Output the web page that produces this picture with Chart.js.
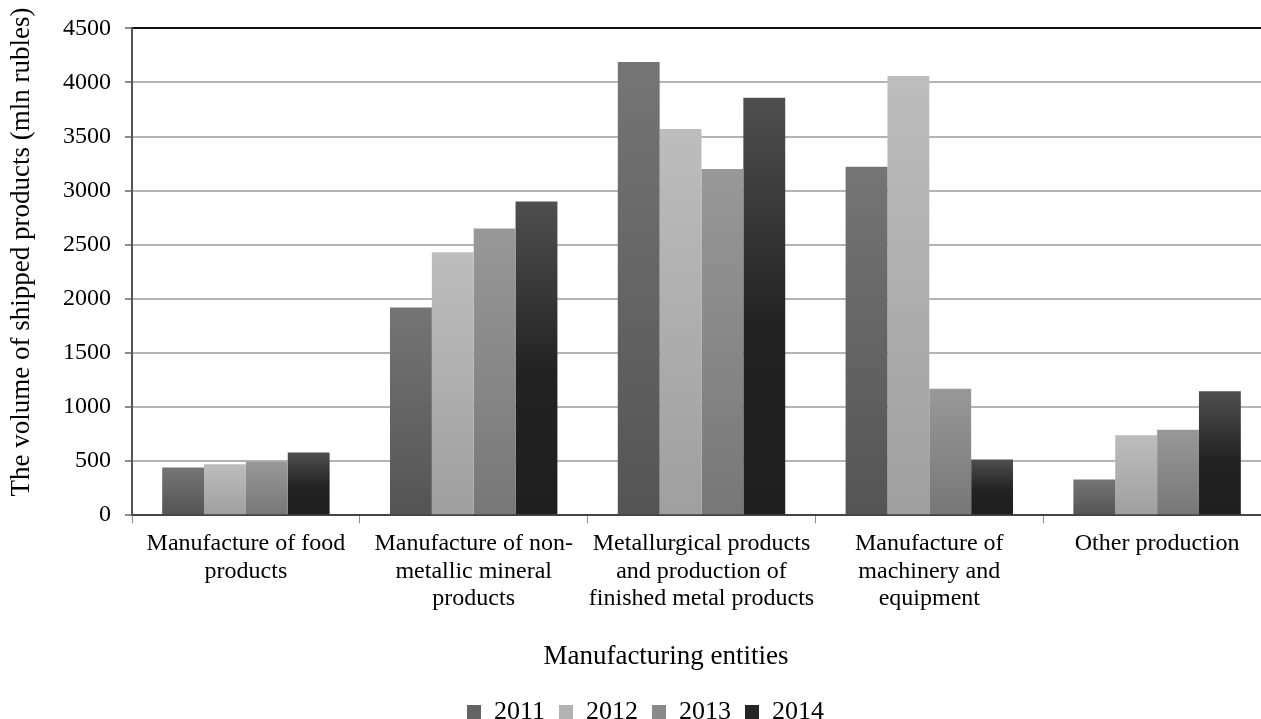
<!DOCTYPE html>
<html>
<head>
<meta charset="utf-8">
<script src="https://cdn.jsdelivr.net/npm/chart.js@4.4.1/dist/chart.umd.min.js"></script>
<style>
  html, body { margin: 0; padding: 0; background: #fff; overflow: hidden; }
  #wrap { width: 1290px; height: 735px; }
</style>
</head>
<body>
<div id="wrap"><canvas id="myChart"></canvas></div>
<script>
// data
var categories = [
    ["Manufacture of food", "products"],
    ["Manufacture of non-", "metallic mineral", "products"],
    ["Metallurgical products", "and production of", "finished metal products"],
    ["Manufacture of", "machinery and", "equipment"],
    "Other production"
];
var years = ["2011", "2012", "2013", "2014"];
var v2011 = [440, 1920, 4190, 3220, 330];
var v2012 = [470, 2430, 3570, 4060, 740];
var v2013 = [495, 2650, 3200, 1170, 790];
var v2014 = [580, 2900, 3860, 515, 1145];
var yTicks = [0, 500, 1000, 1500, 2000, 2500, 3000, 3500, 4000, 4500];

var xTitle = "Manufacturing entities";
var yTitle = "The volume of shipped products (mln rubles)";
var serif = "'Liberation Serif', 'Times New Roman', serif";

// each bar gets its own top-to-bottom shading
function shade(stops) {
    return function (c) {
        var chart = c.chart;
        if (!chart.chartArea || c.type !== "data") return stops[stops.length - 1][1];
        var y = chart.scales.y;
        var g = chart.ctx.createLinearGradient(0, y.getPixelForValue(c.raw), 0, y.getPixelForValue(0));
        stops.forEach(function (s) { g.addColorStop(s[0], s[1]); });
        return g;
    };
}

var fills = [
    shade([[0, "#757575"], [1, "#545454"]]),
    shade([[0, "#bdbdbd"], [1, "#9f9f9f"]]),
    shade([[0, "#989898"], [1, "#777777"]]),
    shade([[0, "#4f4f4f"], [0.55, "#222222"], [1, "#1f1f1f"]])
];
var legendFills = ["#646464", "#b2b2b2", "#8a8a8a", "#262626"];
var seriesValues = [v2011, v2012, v2013, v2014];

// axis titles drawn by hand so they sit where the original has them
var titlesPlugin = {
    id: "axisTitles",
    afterDraw: function (chart) {
        var ctx = chart.ctx;
        ctx.save();
        ctx.fillStyle = "#000";
        ctx.font = "27px " + serif;
        ctx.textAlign = "center";
        ctx.textBaseline = "middle";
        ctx.fillText(xTitle, 666, 657);
        ctx.translate(22, 252);
        ctx.rotate(-Math.PI / 2);
        ctx.fillText(yTitle, 0, 0);
        ctx.restore();
    }
};

var ctx = document.getElementById("myChart");
var myChart = new Chart(ctx, {
    type: "bar",
    data: {
        labels: categories,
        datasets: years.map(function (yr, i) {
            return {
                label: yr,
                data: seriesValues[i],
                backgroundColor: fills[i],
                borderWidth: 0,
                categoryPercentage: 0.735,
                barPercentage: 1.0
            };
        })
    },
    plugins: [titlesPlugin],
    options: {
        responsive: true,
        maintainAspectRatio: false,
        animation: false,
        layout: {
            padding: { top: 27, left: 20, right: 19, bottom: 0 }
        },
        plugins: {
            tooltip: { enabled: false },
            title: { display: false },
            legend: {
                display: true,
                position: "bottom",
                labels: {
                    boxWidth: 14,
                    boxHeight: 14,
                    padding: 14,
                    color: "#000",
                    font: { family: serif, size: 26 },
                    generateLabels: function (chart) {
                        var items = Chart.defaults.plugins.legend.labels.generateLabels(chart);
                        items.forEach(function (it, i) {
                            it.fillStyle = legendFills[i];
                            it.strokeStyle = legendFills[i];
                            it.lineWidth = 0;
                        });
                        return items;
                    }
                }
            }
        },
        scales: {
            x: {
                grid: {
                    offset: true,
                    drawOnChartArea: false,
                    drawTicks: true,
                    tickLength: 8,
                    tickColor: "#8c8c8c",
                    lineWidth: 1
                },
                border: { display: true, color: "#444", width: 2 },
                ticks: {
                    color: "#000",
                    padding: 7,
                    maxRotation: 0,
                    autoSkip: false,
                    font: { family: serif, size: 24, lineHeight: 1.15 }
                },
                afterFit: function (scale) { scale.height += 65; }
            },
            y: {
                min: 0,
                max: 4500,
                afterBuildTicks: function (scale) {
                    scale.ticks = yTicks.map(function (v) { return { value: v }; });
                },
                afterFit: function (scale) { scale.width += 29; },
                grid: {
                    color: function (c) { return c.tick && c.tick.value === 4500 ? "#111" : "#b4b4b4"; },
                    lineWidth: 2,
                    tickLength: 7,
                    tickColor: "#8c8c8c"
                },
                border: { display: true, color: "#555", width: 2 },
                ticks: {
                    color: "#000",
                    padding: 14,
                    font: { family: serif, size: 24 },
                    callback: function (v) { return String(v); }
                }
            }
        }
    }
});
</script>
</body>
</html>
